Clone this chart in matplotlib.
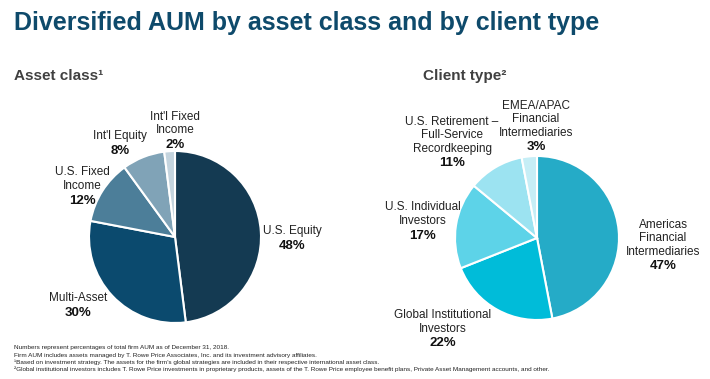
"""Diversified AUM by asset class and by client type"""
import matplotlib
matplotlib.use('Agg')
import matplotlib.pyplot as plt

plt.rcParams['font.family'] = ['Liberation Sans', 'DejaVu Sans']

W, H = 710, 379

# 数据
asset_labels = ["U.S. Equity", "Multi-Asset", "U.S. Fixed\nIncome", "Int'l Equity", "Int'l Fixed\nIncome"]
asset_values = [48, 30, 12, 8, 2]
asset_colors = ['#143A52', '#0B4A6E', '#4C7E99', '#80A3B7', '#C4D4DE']

client_labels = ["Americas\nFinancial\nIntermediaries", "Global Institutional\nInvestors",
                 "U.S. Individual\nInvestors", "U.S. Retirement \u2013\nFull-Service\nRecordkeeping",
                 "EMEA/APAC\nFinancial\nIntermediaries"]
client_values = [47, 22, 17, 11, 3]
client_colors = ['#25ABC7', '#00BCD9', '#5DD3E8', '#9CE3F1', '#C6EEF6']

footnotes = [
    "Numbers represent percentages of total firm AUM as of December 31, 2018.",
    "Firm AUM includes assets managed by T. Rowe Price Associates, Inc. and its investment advisory affiliates.",
    "\u00b9Based on investment strategy. The assets for the firm\u2019s global strategies are included in their respective international asset class.",
    "\u00b2Global institutional investors includes T. Rowe Price investments in proprietary products, assets of the T. Rowe Price employee benefit plans, Private Asset Management accounts, and other.",
]

# 标签位置 (像素, 文字块中心)
asset_pos = [(292, 238), (78, 305), (82, 186), (120, 143), (175, 130)]
client_pos = [(663, 245), (443, 329), (423, 221), (452, 142), (536, 126)]

fig = plt.figure(figsize=(W / 100, H / 100), dpi=100)


def px(x, y):
    return x / W, 1 - y / H


def add_pie(cx, cy, r, values, colors):
    ax = fig.add_axes([(cx - r) / W, 1 - (cy + r) / H, 2 * r / W, 2 * r / H])
    ax.pie(values, colors=colors, startangle=90, counterclock=False,
           wedgeprops=dict(edgecolor='white', linewidth=1.5))
    ax.set_xlim(-1, 1)
    ax.set_ylim(-1, 1)
    ax.set_aspect('equal')
    ax.axis('off')
    return ax


add_pie(175, 237, 86, asset_values, asset_colors)
add_pie(537, 238, 82, client_values, client_colors)


def add_label(pos, label, value):
    x, y = pos
    n = label.count('\n') + 1
    lh = 13.5
    top = y - (n + 1) * lh / 2
    for i, line in enumerate(label.split('\n')):
        fig.text(*px(x, top + lh * (i + 0.5)), line, ha='center', va='center',
                 fontsize=8.5, color='#222222')
    fig.text(*px(x, top + lh * (n + 0.5) + 1), f"{value}%", ha='center', va='center',
             fontsize=9.5, fontweight='bold', color='#111111')


for p, l, v in zip(asset_pos, asset_labels, asset_values):
    add_label(p, l, v)
for p, l, v in zip(client_pos, client_labels, client_values):
    add_label(p, l, v)

# 标题
fig.text(*px(14, 23), "Diversified AUM by asset class and by client type",
         fontsize=18, fontweight='bold', color='#0E4A6B', va='center')
fig.text(*px(14, 76), "Asset class\u00b9", fontsize=11, fontweight='bold', color='#404040', va='center')
fig.text(*px(423, 76), "Client type\u00b2", fontsize=11, fontweight='bold', color='#404040', va='center')

# 脚注
for i, t in enumerate(footnotes):
    fig.text(*px(14, 348 + i * 7.0), t, fontsize=4.55, color='#222222', va='center')

plt.savefig('out.png', dpi=100)
